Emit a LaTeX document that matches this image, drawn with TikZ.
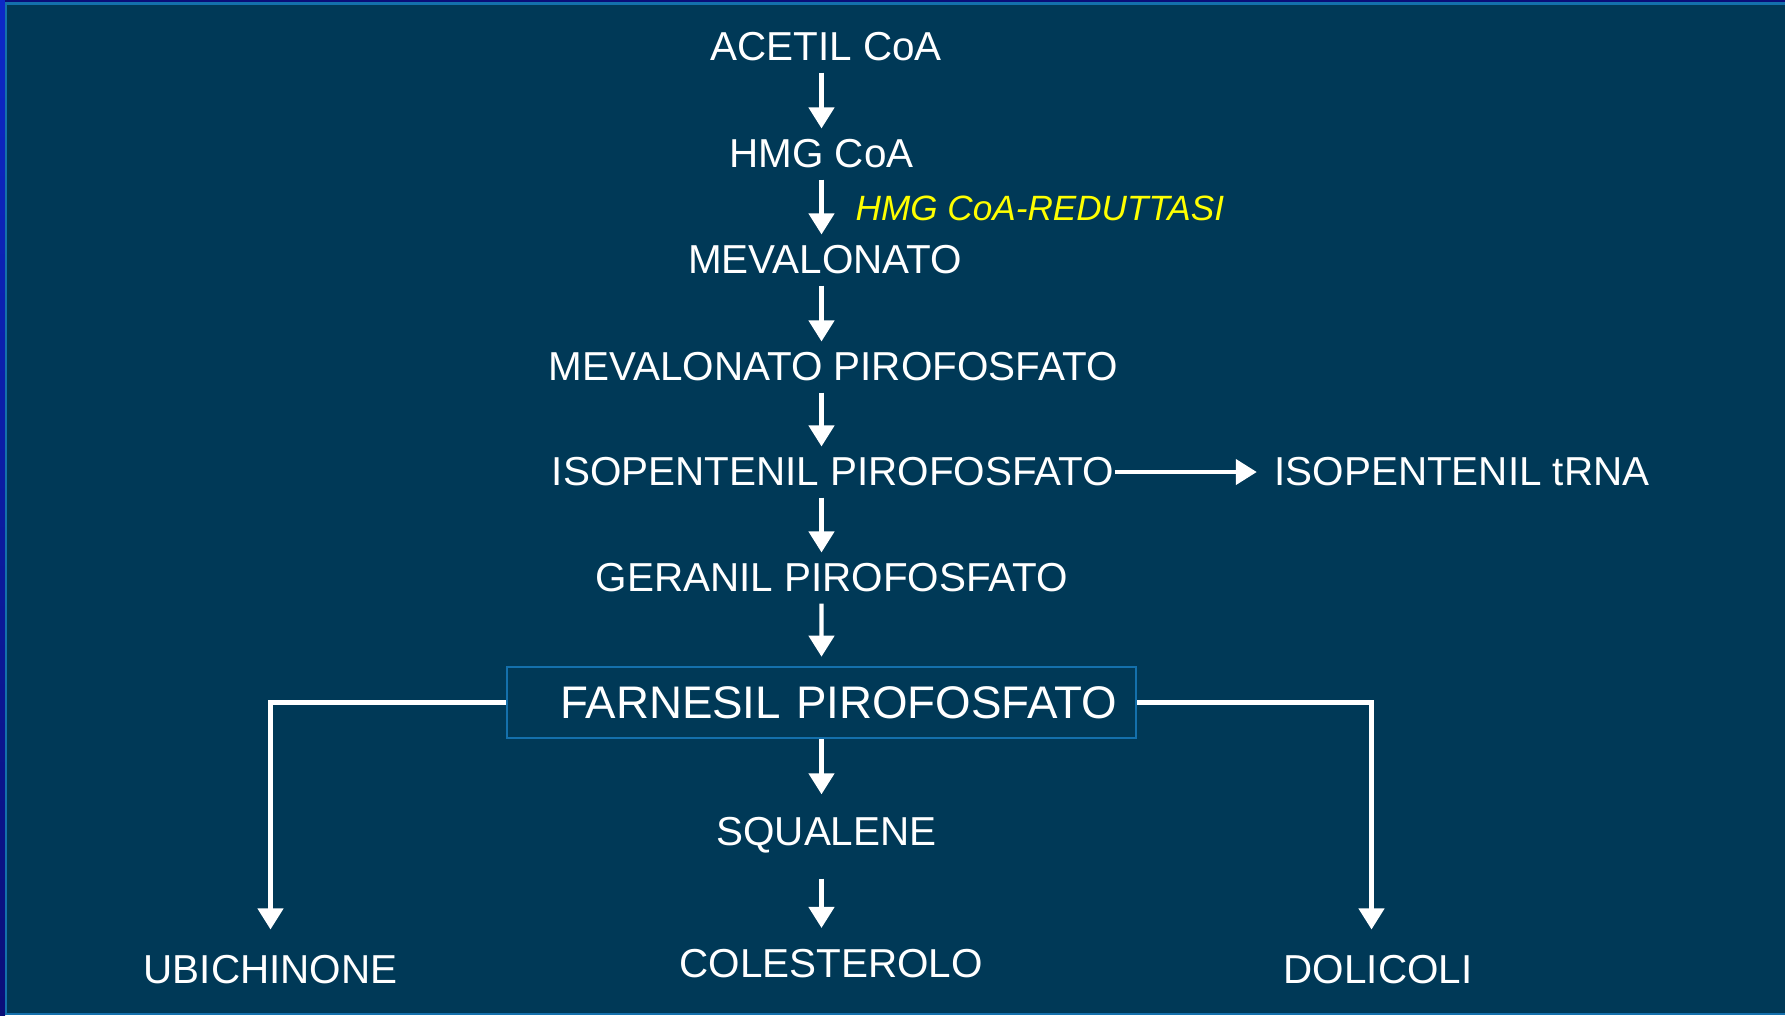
\documentclass[tikz,border=0pt]{standalone}
\usepackage{fontspec}
\setmainfont{Liberation Sans}
\usetikzlibrary{positioning,arrows.meta}
\definecolor{slidebg}{RGB}{0,57,87}
\definecolor{slideblue}{RGB}{12,40,200}
\definecolor{slidenavy}{RGB}{10,14,120}
\definecolor{frameline}{RGB}{20,112,172}
\definecolor{enzymeyellow}{RGB}{255,255,0}

\begin{document}
\begin{tikzpicture}

  % Definitions
  \tikzstyle{Metabolite} = [text=white, font=\fontsize{11.5}{13}\selectfont, inner xsep=0pt, inner ysep=3pt]
  \tikzstyle{Enzyme} = [text=enzymeyellow, font=\fontsize{10}{12}\selectfont\itshape, inner sep=0pt]
  \tikzstyle{Key} = [rectangle, draw=frameline, line width=0.75pt, minimum width=6.29cm, minimum height=0.71cm, text width=5.91cm, align=right, inner xsep=0.19cm, text=white, font=\fontsize{13}{15}\selectfont]
  \tikzstyle{arrow} = [white, line width=1.25pt, -{Triangle[width=0.25cm,length=0.21cm]}]

  % slide
  \useasboundingbox (0,0) rectangle (17.85,-10.15);
  \fill [slidebg] (0,0) rectangle (17.85,-10.15);
  \shade [top color=slideblue, bottom color=slidenavy] (0,0) rectangle (0.05,-10.15);
  \fill [slidenavy] (0.05,0) rectangle (17.85,-0.02);
  \fill [frameline] (0.05,-0.02) rectangle (17.85,-0.045);
  \fill [frameline] (0.05,-0.045) rectangle (0.073,-10.15);
  \fill [frameline] (0.05,-10.13) rectangle (17.85,-10.15);

  \node (acetil) [Metabolite] at (8.26,-0.47) {ACETIL CoA};
  \node (hmg) [Metabolite, below of=acetil, node distance=1.07cm, xshift=-0.045cm] {HMG CoA};
  \node (mev) [Metabolite, below of=hmg, node distance=1.06cm, xshift=0.035cm] {MEVALONATO};
  \node (mevpp) [Metabolite, below of=mev, node distance=1.07cm, xshift=0.08cm] {MEVALONATO PIROFOSFATO};
  \node (ipp) [Metabolite, below of=mevpp, node distance=1.05cm] {ISOPENTENIL PIROFOSFATO};
  \node (ger) [Metabolite, below of=ipp, node distance=1.06cm, xshift=-0.01cm] {GERANIL PIROFOSFATO};
  \node (farnesil) [Key, below of=ger, node distance=1.245cm, xshift=-0.105cm] {FARNESIL PIROFOSFATO};
  \node (squalene) [Metabolite, below of=farnesil, node distance=1.33cm, xshift=0.05cm] {SQUALENE};
  \node (colesterolo) [Metabolite, below of=squalene, node distance=1.28cm, xshift=0.045cm] {COLESTEROLO};
  \node (ubichinone) [Metabolite, left of=colesterolo, node distance=5.605cm, yshift=-0.065cm] {UBICHINONE};
  \node (dolicoli) [Metabolite, right of=colesterolo, node distance=5.47cm, yshift=-0.065cm] {DOLICOLI};
  \node (trna) [Metabolite, right of=ipp, node distance=6.29cm] {ISOPENTENIL tRNA};
  \node (reduttasi) [Enzyme, anchor=west] at (8.55,-2.08) {HMG CoA-REDUTTASI};

  \draw [arrow] (acetil.south -| hmg) -- (hmg.north);
  \draw [arrow] (hmg.south) -- (mev.north -| hmg);
  \draw [arrow] (mev.south -| hmg) -- (mevpp.north -| hmg);
  \draw [arrow] (mevpp.south -| hmg) -- (ipp.north -| hmg);
  \draw [arrow] (ipp.south -| hmg) -- (ger.north -| hmg);
  \draw [arrow, shorten >=0.09cm] (ger.south -| hmg) -- (farnesil.north);
  \draw [arrow] (ipp.east) -- ([xshift=-0.17cm]trna.west);
  \draw [arrow, shorten >=0.12cm] (farnesil.south) -- (squalene.north -| farnesil);
  \draw [arrow, shorten <=0.14cm, shorten >=0.1cm] (squalene.south -| farnesil) -- (colesterolo.north -| farnesil);
  \draw [arrow, shorten >=0.15cm] (farnesil.west) -| (ubichinone.north);
  \draw [arrow, shorten >=0.15cm] (farnesil.east) -| ([xshift=-0.065cm]dolicoli.north);

\end{tikzpicture}
\end{document}
